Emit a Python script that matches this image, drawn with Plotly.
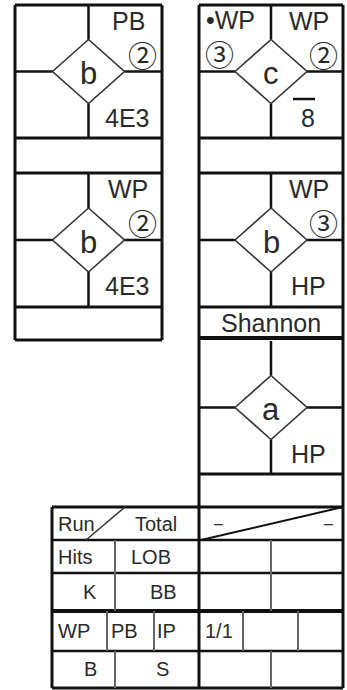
import plotly.graph_objects as go

# ---------------- data ----------------
base_marks = ["b", "b", "c", "b", "a"]
top_left_notes = ["", "", "•WP", "", ""]
top_left_counts = ["", "", "③", "", ""]
top_right_notes = ["PB", "WP", "WP", "WP", ""]
top_right_counts = ["②", "②", "②", "③", ""]
results = ["4E3", "4E3", "8", "HP", "HP"]
result_bars = [False, False, True, False, False]
pitcher_change = "Shannon"
summary_left_labels = [["Run", "Total"], ["Hits", "LOB"], ["K", "BB"], ["WP", "PB", "IP"], ["B", "S"]]
summary_right_values = [["–", "–"], ["", ""], ["", ""], ["1/1", "", ""], ["", ""]]

# ---------------- geometry ----------------
W, H = 347, 690
LX0, LX1 = 15, 162
RX0, RX1 = 199, 343
cells = [(LX0, LX1, 5, 138), (LX0, LX1, 173, 307),
         (RX0, RX1, 5, 138), (RX0, RX1, 173, 307), (RX0, RX1, 341, 474)]
BLACK = "#111111"
TXT = "#2a2a2a"
FONT = "Liberation Sans, Arial, sans-serif"
CIRC = "Noto Sans CJK JP, DejaVu Sans"

shapes = []
ann = []


def line(x0, y0, x1, y1, w=2.5, c=BLACK):
    shapes.append(dict(type="line", x0=x0, y0=y0, x1=x1, y1=y1,
                       xref="x", yref="y", line=dict(color=c, width=w)))


def text(x, y, s, size=24, xa="center", family=FONT, color=TXT):
    if s == "":
        return
    ann.append(dict(x=x, y=y, text=s, showarrow=False, xref="x", yref="y",
                    xanchor=xa, yanchor="middle",
                    font=dict(family=family, size=size, color=color)))


# column outlines
line(LX0, 5, LX1, 5, 3)
line(LX0, 5, LX0, 340, 3)
line(LX1, 5, LX1, 340, 3)
line(LX0, 340, LX1, 340, 3)
for y in (138, 173, 307):
    line(LX0, y, LX1, y, 3)

line(RX0, 5, RX1, 5, 3)
line(RX0, 5, RX0, 688, 3)
line(RX1, 5, RX1, 688, 3)
for y in (138, 173, 307, 474):
    line(RX0, y, RX1, y, 3)
line(RX0, 338, RX1, 338, 4)

# at-bat cells
for i, (x0, x1, t, b) in enumerate(cells):
    cx = (x0 + x1) / 2
    cy = (t + b) / 2
    hw, hh = 36, 32
    line(cx, t, cx, cy - hh, 2.5)
    line(cx, cy + hh, cx, b, 2.5)
    line(x0, cy, cx - hw, cy, 2.5)
    line(cx + hw, cy, x1, cy, 2.5)
    shapes.append(dict(type="path", xref="x", yref="y",
                       path=f"M {cx-hw} {cy} L {cx} {cy-hh} L {cx+hw} {cy} L {cx} {cy+hh} Z",
                       line=dict(color="#333333", width=1.6)))
    text(cx, cy + 2, base_marks[i], size=31)
    text(x0 + 31, t + 15, top_left_notes[i], size=25)
    text(x0 + 20, t + 48, top_left_counts[i], size=29, family=CIRC)
    text(x1 - 34, t + 16, top_right_notes[i], size=25)
    text(x1 - 20, t + 49, top_right_counts[i], size=29, family=CIRC)
    text(x1 - 35, t + 113, results[i], size=25)
    if result_bars[i]:
        line(x1 - 50, t + 94, x1 - 28, t + 94, 2.5)

text((RX0 + RX1) / 2, 323, pitcher_change, size=25)

# ---------------- summary table ----------------
TX0 = 52
rows = [507, 540, 573, 611, 651, 688]
line(TX0, 507, RX1, 507, 3)
line(TX0, 507, TX0, 688, 3)
line(TX0, 688, RX1, 688, 3)
for y in rows[1:-1]:
    line(TX0, y, RX1, y, 4 if y == 611 else 2.5)

GRAY = "#666666"
for (ya, yb) in [(540, 573), (573, 611), (651, 688)]:
    line(115, ya, 115, yb, 2, GRAY)
    line(271, ya, 271, yb, 2, GRAY)
for xv in (107, 154, 243, 298):
    line(xv, 611, xv, 651, 2, GRAY)
# diagonals for run/total
line(86, 540, 125, 507, 1.5, "#333333")
line(201, 540, RX1, 507, 2, BLACK)

FS = 20
r = summary_left_labels
text(56, 524, r[0][0], FS, "left")
text(133, 524, r[0][1], FS, "left")
text(56, 557, r[1][0], FS, "left")
text(151, 557, r[1][1], FS)
text(90, 592, r[2][0], FS)
text(163, 592, r[2][1], FS)
text(56, 631, r[3][0], FS, "left")
text(109, 631, r[3][1], FS, "left")
text(155, 631, r[3][2], FS, "left")
text(90, 669, r[4][0], FS)
text(162, 669, r[4][1], FS)

v = summary_right_values
text(218, 523, v[0][0], 16)
text(328, 523, v[0][1], 16)
text(203, 631, v[3][0], FS, "left")

fig = go.Figure()
fig.update_layout(
    width=W, height=H, margin=dict(l=0, r=0, t=0, b=0),
    paper_bgcolor="white", plot_bgcolor="white",
    xaxis=dict(range=[0, W], visible=False, fixedrange=True),
    yaxis=dict(range=[H, 0], visible=False, fixedrange=True),
    shapes=shapes, annotations=ann, showlegend=False,
)
fig.write_html(
    "out.html",
    config={"displayModeBar": False},
    post_script="document.body.style.margin='0';document.body.style.overflow='hidden';",
)
